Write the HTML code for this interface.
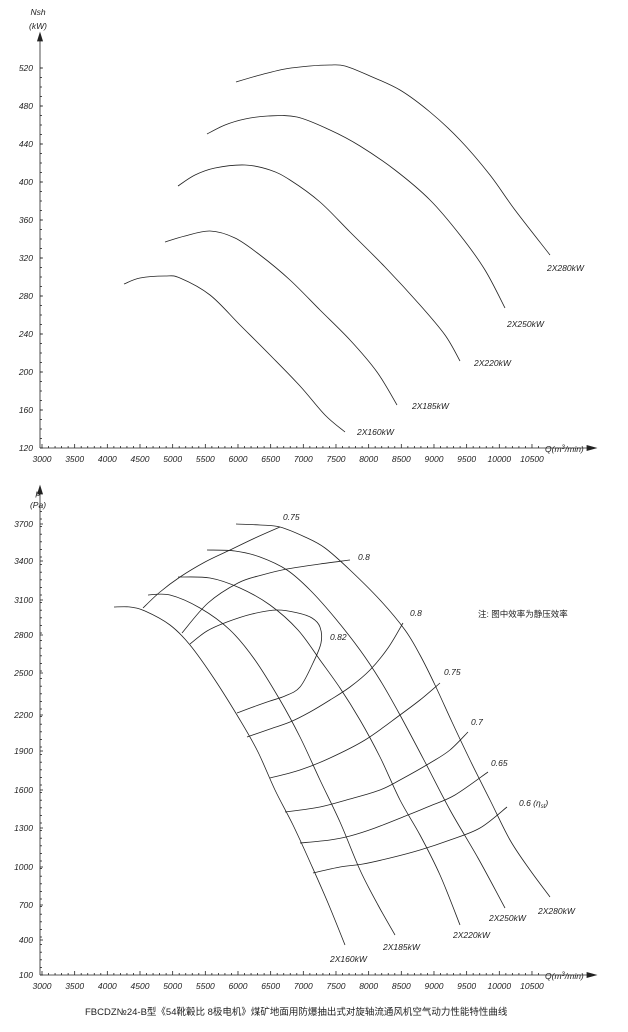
<!DOCTYPE html>
<html><head><meta charset="utf-8"><style>
html,body{margin:0;padding:0;background:#fff;}
svg{display:block;}
text{font-family:"Liberation Sans","Noto Sans CJK SC",sans-serif;font-style:italic;fill:#222;}
</style></head><body>
<svg id="s" width="628" height="1032" viewBox="0 0 628 1032" xmlns="http://www.w3.org/2000/svg">
<g id="g" fill="none" stroke="#222" stroke-width="0.8"></g>
<g id="t" font-size="8.5"></g>
<text x="85" y="1015" font-size="9.5" style="font-style:normal">FBCDZ№24-B型《54靴轂比 8极电机》煤矿地面用防爆抽出式对旋轴流通风机空气动力性能特性曲线</text>
<text x="478" y="617" font-size="8.5" style="font-style:normal">注: 图中效率为静压效率</text>
<text x="519" y="806" font-size="8.5">0.6 (η<tspan font-size="6" dy="2">st</tspan><tspan dy="-2">)</tspan></text>
</svg>
<script>
var g=document.getElementById('g'),t=document.getElementById('t');
var NS='http://www.w3.org/2000/svg';
function el(p,n,a){var e=document.createElementNS(NS,n);for(var k in a)e.setAttribute(k,a[k]);p.appendChild(e);return e;}
function txt(x,y,s,anchor){var e=el(t,'text',{x:x,y:y});if(anchor)e.setAttribute('text-anchor',anchor);e.textContent=s;return e;}
function smooth(p){var d='M'+p[0][0]+','+p[0][1];var n=p.length;
for(var i=0;i<n-1;i++){var p0=p[i-1]||p[i],p1=p[i],p2=p[i+1],p3=p[i+2]||p2;
d+=' C'+(p1[0]+(p2[0]-p0[0])/6).toFixed(1)+','+(p1[1]+(p2[1]-p0[1])/6).toFixed(1)+' '+(p2[0]-(p3[0]-p1[0])/6).toFixed(1)+','+(p2[1]-(p3[1]-p1[1])/6).toFixed(1)+' '+p2[0]+','+p2[1];}
el(g,'path',{d:d});}
function line(a,b,c,d){el(g,'line',{x1:a,y1:b,x2:c,y2:d});}
var X0=42,K=0.06533;
function qx(q){return X0+(q-3000)*K;}
function axes(yTop,yBase){
 line(40,yTop+6,40,yBase);line(40,yBase,588,yBase);
 el(g,'path',{d:'M40,'+yTop+' l-2.5,8 h5 z',fill:'#222'});
 el(g,'path',{d:'M596,'+yBase+' l-9,-2.5 v5 z',fill:'#222'});
 for(var q=3000;q<=10600;q+=100){var x=qx(q);var big=q%500==0;line(x,yBase,x,yBase-(big?4:2));
  if(big) txt(x,yBase+14,String(q),'middle');}
}
function qlab(y){var e=el(t,'text',{x:545,y:y});e.innerHTML='Q(m<tspan font-size="6" dy="-3">3</tspan><tspan dy="3">/min)</tspan>';}
axes(33,448);
for(var i=0;i<=10;i++){var v=120+i*40,y=448-(v-120)*0.95;txt(33,y+3,String(v),'end');line(40,y,43,y);}
for(var y=448;y>60;y-=9.5)line(40,y,42,y);
txt(38,15,'Nsh','middle');txt(38,29,'(kW)','middle');
qlab(452);
smooth([[124,284],[140,278],[165,276],[180,278],[210,295],[240,325],[270,355],[300,386],[325,415],[345,432]]);
smooth([[165,242],[185,236],[210,231],[235,238],[260,255],[290,280],[320,310],[350,340],[377,372],[397,405]]);
smooth([[178,186],[195,175],[215,168],[245,165],[270,170],[290,180],[320,202],[350,232],[385,267],[420,305],[445,335],[460,361]]);
smooth([[207,134],[225,125],[245,119],[268,116],[297,117],[330,130],[360,146],[395,170],[430,200],[460,235],[485,270],[505,308]]);
smooth([[236,82],[260,75],[285,69],[310,66],[330,65],[345,66],[370,76],[400,90],[430,112],[460,140],[490,175],[515,210],[550,255]]);
txt(357,435,'2X160kW');txt(412,409,'2X185kW');txt(474,366,'2X220kW');txt(507,327,'2X250kW');txt(547,271,'2X280kW');
axes(486,975);
var lab=[3700,3400,3100,2800,2500,2200,1900,1600,1300,1000,700,400,100];
var ys=[524,561,600,635,673,715,751,790,828,867,905,940,975];
for(var i=0;i<lab.length;i++){txt(33,ys[i]+3,String(lab[i]),'end');line(40,ys[i],43,ys[i]);}
for(var y=975;y>505;y-=7.6)line(40,y,42,y);
txt(38,496,'p','middle');txt(38,508,'(Pa)','middle');
qlab(979);
smooth([[114,607],[130,607],[145,611],[170,625],[190,645],[215,680],[240,720],[258,752],[275,790],[293,825],[310,862],[328,903],[345,945]]);
smooth([[148,595],[170,595],[200,608],[230,630],[255,660],[280,700],[300,737],[320,780],[340,822],[360,870],[378,905],[395,935]]);
smooth([[178,577],[210,578],[240,588],[270,605],[298,630],[320,660],[340,688],[360,720],[380,757],[400,800],[420,835],[440,875],[460,925]]);
smooth([[207,550],[235,551],[260,557],[287,570],[310,590],[335,618],[360,650],[380,680],[400,715],[425,762],[450,810],[478,858],[505,908]]);
smooth([[236,524],[260,525],[280,527],[305,537],[325,548],[350,570],[380,600],[405,630],[420,655],[435,685],[452,722],[470,760],[490,800],[510,840],[530,870],[550,897]]);
smooth([[143,608],[160,592],[180,577],[205,562],[230,550],[255,538],[280,527]]);
smooth([[182,633],[208,603],[238,583],[262,575],[287,569],[320,564],[350,560]]);
smooth([[190,644],[207,631],[227,622],[252,614],[277,610],[298,613],[312,618],[320,627],[321,643],[313,663],[300,687],[285,696],[270,701],[253,707],[237,713]]);
smooth([[247,737],[270,729],[290,722],[310,712],[330,700],[350,687],[370,670],[388,648],[403,623]]);
smooth([[270,778],[300,770],[330,758],[365,740],[400,715],[420,700],[440,683]]);
smooth([[285,812],[320,807],[350,799],[380,790],[400,780],[430,763],[450,750],[468,732]]);
smooth([[300,843],[330,840],[350,836],[375,828],[403,817],[430,806],[455,795],[488,772]]);
smooth([[313,873],[340,867],[363,864],[390,858],[420,850],[450,840],[480,828],[507,807]]);
txt(283,520,'0.75');txt(358,560,'0.8');txt(330,640,'0.82');txt(410,616,'0.8');txt(444,675,'0.75');
txt(471,725,'0.7');txt(491,766,'0.65');
txt(330,962,'2X160kW');txt(383,950,'2X185kW');txt(453,938,'2X220kW');txt(489,921,'2X250kW');txt(538,914,'2X280kW');
</script>
</body></html>
